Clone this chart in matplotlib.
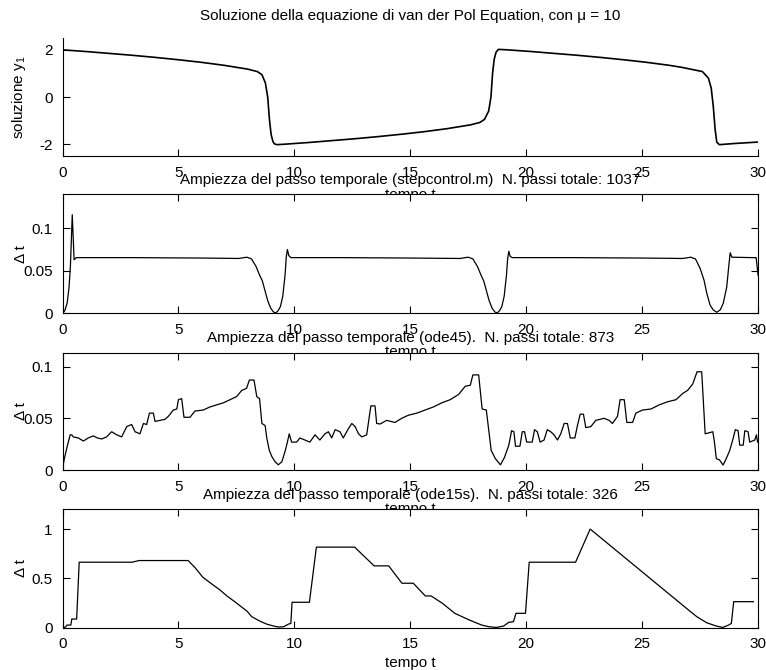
import matplotlib
matplotlib.use("Agg")
from matplotlib import pyplot as plt

plt.rcParams['font.family'] = ['Liberation Sans', 'DejaVu Sans']
plt.rcParams['mathtext.fontset'] = 'custom'
plt.rcParams['mathtext.rm'] = 'Liberation Sans'
plt.rcParams['mathtext.default'] = 'regular'
plt.rcParams['font.size'] = 11

# solution y1 (van der Pol, mu = 10)
t_sol = [0, 1, 2, 3, 4, 5, 6, 7, 7.5, 8.0,
         8.4, 8.6, 8.75, 8.85, 8.93, 9.0, 9.08, 9.15, 9.25, 9.6,
         10.6, 11.6, 12.6, 13.6, 14.6, 15.6, 16.6, 17.1, 17.6, 18.0,
         18.2, 18.38, 18.48, 18.55, 18.62, 18.7, 18.8, 19.2, 20.2, 21.2,
         22.2, 23.2, 24.2, 25.2, 26.2, 26.7, 27.2, 27.6, 27.86, 27.98,
         28.07, 28.15, 28.22, 28.33, 29.0, 30.0]
y_sol = [2.0, 1.93, 1.85, 1.77, 1.68, 1.58, 1.47, 1.34, 1.26, 1.18,
         1.08, 0.95, 0.6, 0.0, -1.0, -1.6, -1.9, -1.99, -2.02, -2.0,
         -1.93, -1.85, -1.77, -1.68, -1.58, -1.47, -1.34, -1.26, -1.18, -1.08,
         -0.95, -0.6, 0.0, 1.0, 1.6, 1.9, 2.02, 2.0, 1.93, 1.85,
         1.77, 1.68, 1.58, 1.47, 1.34, 1.26, 1.16, 1.08, 0.8, 0.38,
         -0.4, -1.38, -1.91, -2.02, -1.97, -1.91]

# step size, stepcontrol.m
t_sc = [0, 0.1, 0.2, 0.28, 0.34, 0.38, 0.42, 0.46, 0.5, 0.6,
        3, 6, 7.6, 7.95, 8.15, 8.35, 8.5, 8.62, 8.72, 8.85,
        8.98, 9.1, 9.2, 9.3, 9.4, 9.5, 9.6, 9.65, 9.7, 9.76, 9.85,
        12, 15, 17.15, 17.5, 17.7, 17.9, 18.05, 18.17, 18.27, 18.4,
        18.53, 18.65, 18.75, 18.85, 18.95, 19.05, 19.15, 19.2, 19.25, 19.31, 19.4,
        22, 25, 26.75, 27.1, 27.3, 27.5, 27.67, 27.79, 27.93, 28.07,
        28.22, 28.37, 28.5, 28.65, 28.75, 28.8, 28.87, 29.92, 30.0]
dt_sc = [0.0, 0.003, 0.012, 0.03, 0.055, 0.085, 0.116, 0.09, 0.063, 0.0655,
         0.0655, 0.065, 0.0645, 0.066, 0.064, 0.055, 0.045, 0.038, 0.028, 0.015,
         0.006, 0.0015, 0.0005, 0.003, 0.008, 0.02, 0.045, 0.066, 0.075, 0.068, 0.0655,
         0.0655, 0.065, 0.0645, 0.066, 0.064, 0.055, 0.045, 0.038, 0.028, 0.015,
         0.006, 0.0015, 0.0005, 0.003, 0.008, 0.02, 0.045, 0.064, 0.073, 0.067, 0.0655,
         0.0655, 0.065, 0.0645, 0.066, 0.064, 0.053, 0.039, 0.0235, 0.0098, 0.0039,
         0.0012, 0.004, 0.0118, 0.031, 0.0588, 0.0713, 0.066, 0.0654, 0.045]

# step size, ode45
t_45 = [0, 0.1, 0.2, 0.33, 0.4, 0.47, 0.68, 0.9, 1.11, 1.33,
        1.5, 1.69, 1.9, 2.12, 2.34, 2.55, 2.77, 2.98, 3.13, 3.34,
        3.49, 3.63, 3.75, 3.92, 3.99, 4.21, 4.42, 4.57, 4.78, 4.93,
        5.0, 5.14, 5.24, 5.5, 5.71, 6.07, 6.36, 6.65, 6.94, 7.23,
        7.51, 7.73, 7.94, 8.06, 8.26, 8.38, 8.5, 8.6, 8.74, 8.81,
        8.92, 9.03, 9.17, 9.31, 9.46, 9.6, 9.7, 9.78, 9.88, 10.1,
        10.24, 10.46, 10.67, 10.89, 11.1, 11.32, 11.47, 11.61, 11.76, 11.97,
        12.11, 12.33, 12.48, 12.62, 12.77, 12.91, 13.12, 13.3, 13.48, 13.55,
        13.7, 13.98, 14.34, 14.63, 14.92, 15.28, 15.64, 16.0, 16.36, 16.72,
        17.08, 17.37, 17.59, 17.7, 17.95, 18.1, 18.28, 18.38, 18.49, 18.67,
        18.89, 19.06, 19.25, 19.37, 19.47, 19.54, 19.73, 19.83, 19.93, 20.02,
        20.26, 20.36, 20.48, 20.6, 20.77, 20.91, 21.06, 21.2, 21.35, 21.49,
        21.64, 21.78, 21.9, 22.1, 22.21, 22.33, 22.47, 22.57, 22.79, 23.0,
        23.36, 23.58, 23.72, 23.94, 24.05, 24.23, 24.34, 24.59, 24.73, 25.02,
        25.38, 25.74, 26.1, 26.46, 26.75, 26.96, 27.18, 27.37, 27.57, 27.72,
        28.05, 28.12, 28.2, 28.34, 28.49, 28.63, 28.78, 28.92, 29.02, 29.14,
        29.21, 29.36, 29.43, 29.57, 29.64, 29.86, 29.93, 29.98]
dt_45 = [0.0016, 0.013, 0.0226, 0.034, 0.034, 0.032, 0.031, 0.028, 0.031, 0.033,
         0.031, 0.030, 0.032, 0.037, 0.034, 0.032, 0.042, 0.044, 0.037, 0.035,
         0.045, 0.044, 0.055, 0.055, 0.047, 0.048, 0.049, 0.052, 0.058, 0.059,
         0.068, 0.069, 0.051, 0.051, 0.057, 0.058, 0.061, 0.063, 0.065, 0.068,
         0.071, 0.077, 0.079, 0.087, 0.087, 0.071, 0.069, 0.045, 0.043, 0.031,
         0.019, 0.013, 0.008, 0.005, 0.008, 0.018, 0.027, 0.035, 0.027, 0.027,
         0.031, 0.029, 0.027, 0.034, 0.029, 0.035, 0.037, 0.031, 0.039, 0.037,
         0.031, 0.040, 0.045, 0.042, 0.035, 0.032, 0.034, 0.062, 0.062, 0.045,
         0.0445, 0.048, 0.046, 0.050, 0.053, 0.055, 0.058, 0.061, 0.065, 0.068,
         0.073, 0.081, 0.082, 0.092, 0.092, 0.059, 0.058, 0.039, 0.019, 0.011,
         0.005, 0.012, 0.024, 0.038, 0.037, 0.023, 0.023, 0.037, 0.037, 0.027,
         0.027, 0.039, 0.037, 0.027, 0.029, 0.039, 0.037, 0.034, 0.029, 0.035,
         0.045, 0.045, 0.031, 0.031, 0.043, 0.054, 0.054, 0.041, 0.042, 0.048,
         0.050, 0.048, 0.045, 0.052, 0.068, 0.068, 0.046, 0.046, 0.055, 0.058,
         0.059, 0.063, 0.066, 0.068, 0.074, 0.077, 0.083, 0.095, 0.095, 0.035,
         0.037, 0.027, 0.011, 0.0097, 0.0048, 0.011, 0.019, 0.030, 0.039, 0.038,
         0.024, 0.024, 0.038, 0.037, 0.027, 0.029, 0.034, 0.027]

# step size, ode15s
t_15 = [0, 0.12, 0.2, 0.36, 0.4, 0.61, 0.72, 3.0, 3.3, 5.42,
        5.74, 6.05, 6.4, 6.79, 7.1, 7.43, 7.74, 7.95, 8.16, 8.48,
        8.8, 9.11, 9.32, 9.54, 9.75, 9.85, 9.9, 10.65, 10.95, 12.6,
        13.44, 14.07, 14.64, 15.13, 15.65, 15.9, 16.39, 16.92, 17.55, 18.08,
        18.4, 18.71, 19.03, 19.24, 19.45, 19.56, 19.97, 20.13, 22.13, 22.76,
        27.05, 27.36, 27.78, 28.2, 28.48, 28.73, 28.85, 28.95, 29.8]
dt_15 = [0.005, 0.005, 0.027, 0.027, 0.088, 0.088, 0.664, 0.664, 0.681, 0.681,
         0.603, 0.512, 0.45, 0.383, 0.32, 0.264, 0.207, 0.17, 0.112, 0.071,
         0.037, 0.017, 0.007, 0.01, 0.037, 0.044, 0.258, 0.258, 0.817, 0.817,
         0.627, 0.627, 0.451, 0.451, 0.322, 0.322, 0.247, 0.146, 0.078, 0.027,
         0.01, 0.003, 0.017, 0.054, 0.061, 0.146, 0.146, 0.664, 0.664, 1.0,
         0.17, 0.112, 0.051, 0.017, 0.003, 0.027, 0.044, 0.264, 0.264]

titles = ["Soluzione della equazione di van der Pol Equation, con \u03bc = 10",
          "Ampiezza del passo temporale (stepcontrol.m)  N. passi totale: 1037",
          "Ampiezza del passo temporale (ode45).  N. passi totale: 873",
          "Ampiezza del passo temporale (ode15s).  N. passi totale: 326"]

fig = plt.figure(figsize=(7.66, 6.70), dpi=100)

# axes boxes in figure fraction (left, bottom, width, height)
boxes = [[0.0816, 0.7672, 0.908, 0.176],
         [0.0816, 0.5324, 0.908, 0.1776],
         [0.0816, 0.2985, 0.908, 0.175],
         [0.0816, 0.0631, 0.908, 0.1767]]

series = [(t_sol, y_sol), (t_sc, dt_sc), (t_45, dt_45), (t_15, dt_15)]
ylims = [(-2.5, 2.5), (0, 0.14), (0, 0.1134), (0, 1.2)]
yticks = [[-2, 0, 2], [0, 0.05, 0.1], [0, 0.05, 0.1], [0, 0.5, 1]]
ylabels = ["soluzione y$_1$", "\u0394 t", "\u0394 t", "\u0394 t"]
title_pads = [13, 7.5, 7.5, 7.5]

for i in range(4):
    ax = fig.add_axes(boxes[i])
    x, y = series[i]
    ax.plot(x, y, color='black', lw=1.2 if i == 0 else 0.9)
    ax.set_xlim(0, 30)
    ax.set_ylim(*ylims[i])
    ax.set_xticks([0, 5, 10, 15, 20, 25, 30])
    ax.set_yticks(yticks[i])
    ax.set_yticklabels([f"{v:g}" for v in yticks[i]])
    ax.set_xlabel("tempo t", labelpad=6 if i < 3 else 3)
    ax.set_ylabel(ylabels[i])
    ax.yaxis.set_label_coords(-0.05, 0.5)
    ax.set_title(titles[i], fontsize=11, pad=title_pads[i])
    for s in ax.spines.values():
        s.set_linewidth(0.8)
    if i == 0:
        ax.spines['top'].set_visible(False)
        ax.spines['right'].set_visible(False)
        ax.tick_params(direction='in', length=5, width=0.8, pad=7, labelsize=11)
    else:
        ax.tick_params(direction='in', length=5, width=0.8, pad=7, labelsize=11,
                       top=True, right=True)

plt.savefig("out.png", dpi=100)
